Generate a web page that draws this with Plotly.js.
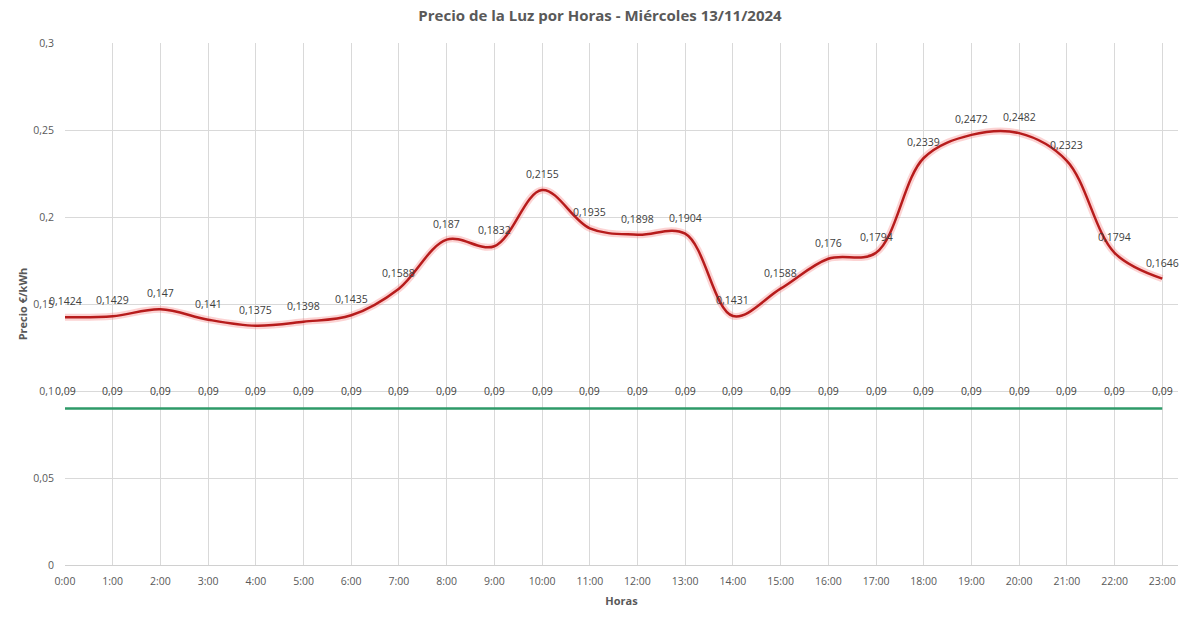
<!DOCTYPE html>
<html>
<head>
<meta charset="utf-8">
<script src="https://cdn.plot.ly/plotly-3.0.1.min.js"></script>
<style>html,body{margin:0;padding:0;background:#fff;}#chart{width:1200px;height:622px;}</style>
</head>
<body>
<div id="chart"></div>
<script>
var hours = ["0:00","1:00","2:00","3:00","4:00","5:00","6:00","7:00","8:00","9:00","10:00","11:00","12:00","13:00","14:00","15:00","16:00","17:00","18:00","19:00","20:00","21:00","22:00","23:00"];
var prices = [0.1424,0.1429,0.147,0.141,0.1375,0.1398,0.1435,0.1588,0.187,0.1832,0.2155,0.1935,0.1898,0.1904,0.1431,0.1588,0.176,0.1794,0.2339,0.2472,0.2482,0.2323,0.1794,0.1646];
var reference = [0.09,0.09,0.09,0.09,0.09,0.09,0.09,0.09,0.09,0.09,0.09,0.09,0.09,0.09,0.09,0.09,0.09,0.09,0.09,0.09,0.09,0.09,0.09,0.09];
var yTicks = [0,0.05,0.1,0.15,0.2,0.25,0.3];

var xIdx = hours.map(function(_, i){ return i; });
function fmt(v){ return String(v).replace('.', ','); }

var traces = [
  {x: xIdx, y: reference, mode: 'lines', line: {color: '#2e9a68', width: 2.5}, hoverinfo: 'skip'},
  {x: xIdx, y: prices, mode: 'lines', line: {color: 'rgba(245,130,130,0.35)', width: 7, shape: 'spline', smoothing: 1}, hoverinfo: 'skip'},
  {x: xIdx, y: prices, mode: 'lines', line: {color: '#b71c1c', width: 2.5, shape: 'spline', smoothing: 1}}
];

var annotations = [];
var lblFont = {family: 'Open Sans, Liberation Sans, sans-serif', size: 10.5, color: '#404040'};
prices.forEach(function(v, i){
  annotations.push({x: i, y: v, xref: 'x', yref: 'y', text: fmt(v), showarrow: false, yshift: 16, font: lblFont});
});
reference.forEach(function(v, i){
  annotations.push({x: i, y: v, xref: 'x', yref: 'y', text: fmt(v), showarrow: false, yshift: 17, font: lblFont});
});

var layout = {
  width: 1200, height: 622,
  paper_bgcolor: '#fff', plot_bgcolor: '#fff',
  separators: ',.',
  showlegend: false,
  margin: {l: 65, r: 22, t: 43, b: 57},
  font: {family: 'Open Sans, Liberation Sans, sans-serif', color: '#595959'},
  title: {text: '<b>Precio de la Luz por Horas - Miércoles 13/11/2024</b>', x: 0.5, xanchor: 'center', y: 0.974, yanchor: 'middle',
          font: {size: 15, color: '#595959', family: 'Open Sans, Liberation Sans, sans-serif'}},
  xaxis: {
    range: [0, 23.33], tickmode: 'array', tickvals: xIdx, ticktext: hours,
    showgrid: true, gridcolor: '#d9d9d9', gridwidth: 1, zeroline: false,
    showline: true, linecolor: '#d0d0d0', linewidth: 1,
    ticks: 'outside', ticklen: 6, tickcolor: 'rgba(0,0,0,0)',
    tickfont: {size: 10.5, color: '#595959'}, tickangle: 0,
    title: {text: '<b>Horas</b>', font: {size: 11, color: '#595959'}, standoff: 10},
    fixedrange: true
  },
  yaxis: {
    range: [0, 0.3], tickmode: 'array', tickvals: yTicks,
    showgrid: true, gridcolor: '#d9d9d9', gridwidth: 1, zeroline: false,
    showline: false, ticks: 'outside', ticklen: 8, tickcolor: 'rgba(0,0,0,0)',
    tickfont: {size: 10.5, color: '#595959'},
    title: {text: '<b>Precio €/kWh</b>', font: {size: 11, color: '#595959'}, standoff: 3},
    fixedrange: true
  },
  annotations: annotations
};

Plotly.newPlot('chart', traces, layout, {displayModeBar: false, staticPlot: true});
</script>
</body>
</html>
